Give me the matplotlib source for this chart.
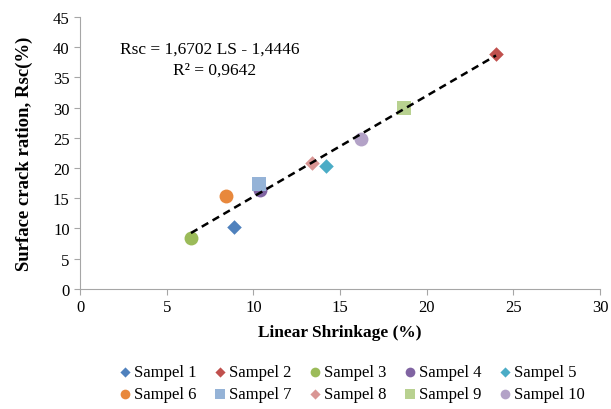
import numpy as np
import matplotlib
matplotlib.use('Agg')
import matplotlib.pyplot as plt

plt.rcParams['font.family'] = ['Liberation Serif', 'DejaVu Serif']

# data
samples = ['Sampel 1', 'Sampel 2', 'Sampel 3', 'Sampel 4', 'Sampel 5',
           'Sampel 6', 'Sampel 7', 'Sampel 8', 'Sampel 9', 'Sampel 10']
shrinkage = [8.9, 24.0, 6.4, 10.4, 14.2, 8.4, 10.3, 13.4, 18.7, 16.2]
crack = [10.2, 38.9, 8.4, 16.4, 20.3, 15.4, 17.4, 20.9, 30.0, 24.8]

colors = ['#4F81BD', '#C0504D', '#9BBB59', '#8064A2', '#4BACC6',
          '#E8883C', '#95B3D7', '#D99694', '#B8D190', '#B3A2C7']
markers = ['D', 'D', 'o', 'o', 'D', 'o', 's', 'D', 's', 'o']
sizes = [55, 55, 100, 100, 55, 100, 90, 55, 90, 100]

slope, intercept = 1.6702, -1.4446

fig = plt.figure(figsize=(6.11, 4.10), dpi=100)
ax = fig.add_axes([0.131, 0.293, 0.851, 0.663])

handles = []
for i in range(len(samples)):
    h = ax.scatter(shrinkage[i], crack[i], marker=markers[i], s=sizes[i],
                   color=colors[i], label=samples[i], zorder=2, linewidths=0)
    handles.append(h)

xs = np.array([min(shrinkage), max(shrinkage)])
ax.plot(xs, slope * xs + intercept, color='black', linestyle=(0, (3, 2)),
        linewidth=1.8, zorder=3)

ax.set_xlim(0, 30)
ax.set_ylim(0, 45)
ax.set_xticks(range(0, 31, 5))
ax.set_yticks(range(0, 46, 5))
for s in ['top', 'right']:
    ax.spines[s].set_visible(False)
for s in ['left', 'bottom']:
    ax.spines[s].set_color('#A6A6A6')
ax.tick_params(colors='#A6A6A6', labelcolor='black', labelsize=12, length=4)

ax.set_xlabel('Linear Shrinkage (%)', fontsize=12.5, fontweight='bold', labelpad=6)
ax.set_ylabel('Surface crack ration, Rsc(%)', fontsize=13.5, fontweight='bold', labelpad=14)

ax.text(0.077, 0.882, 'Rsc = 1,6702 LS - 1,4446', transform=ax.transAxes,
        fontsize=12.5, va='center')
ax.text(0.338, 0.805, 'R² = 0,9642', transform=ax.transAxes, fontsize=12.5,
        ha='right', va='center')

# legend filled row by row (matplotlib fills by column)
order = [0, 5, 1, 6, 2, 7, 3, 8, 4, 9]
fig.legend([handles[k] for k in order], [samples[k] for k in order],
           loc='upper center', bbox_to_anchor=(0.574, 0.125), ncol=5, frameon=False,
           fontsize=12, handlelength=0.9, handletextpad=0.1, columnspacing=0.95,
           labelspacing=0.35, markerscale=0.7, borderaxespad=0)

fig.savefig('out.png', dpi=100)
